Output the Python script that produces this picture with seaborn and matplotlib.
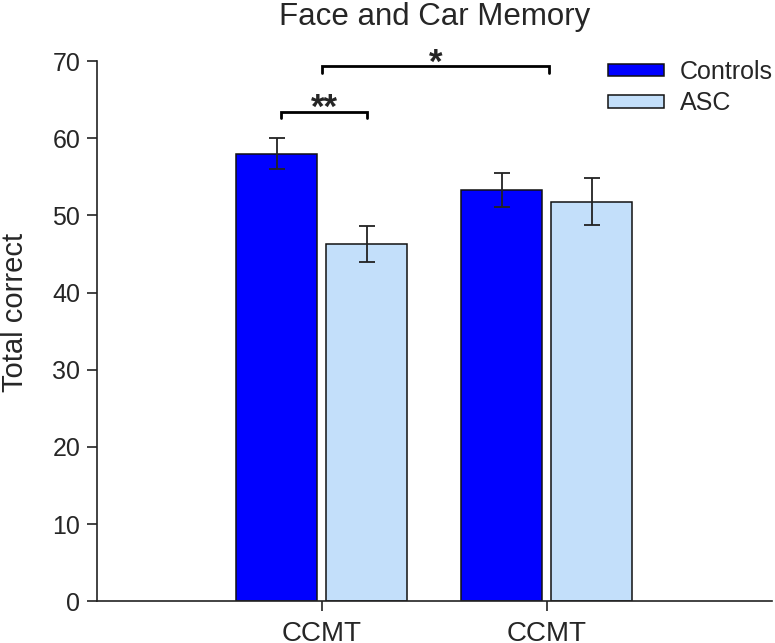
import numpy as np
import pandas as pd
import matplotlib
matplotlib.use('Agg')
import matplotlib.pyplot as plt
import seaborn as sns

# Data
test_ids = [0, 1]
tick_labels = ['CCMT', 'CCMT']
groups = ['Controls', 'ASC']
controls_mean = [58.0, 53.3]
asc_mean = [46.3, 51.8]
controls_err = [2.05, 2.2]
asc_err = [2.3, 3.05]

palette = {'Controls': '#0000FF', 'ASC': '#C3DFFA'}

df = pd.DataFrame({
    'test': test_ids * 2,
    'group': ['Controls'] * 2 + ['ASC'] * 2,
    'score': controls_mean + asc_mean,
    'err': controls_err + asc_err,
})

sns.set_style('white')
plt.rcParams['font.family'] = ['Liberation Sans', 'DejaVu Sans']
plt.rcParams['font.size'] = 16

fig = plt.figure(figsize=(7.75, 6.43), dpi=100)
ax = fig.add_axes([0.125, 0.065, 0.871, 0.84])

sns.barplot(data=df, x='test', y='score', hue='group', hue_order=groups,
            palette=palette, saturation=1, errorbar=None, width=0.8, gap=0.1,
            edgecolor='#111111', linewidth=1.1, ax=ax)

# error bars on top of each bar
for container, g in zip(ax.containers, groups):
    errs = df[df['group'] == g]['err'].values
    for bar, e in zip(container, errs):
        cx = bar.get_x() + bar.get_width() / 2
        ax.errorbar(cx, bar.get_height(), yerr=e, color='#222222',
                    capsize=5.8, elinewidth=1.3, capthick=1.3, zorder=5)

# significance brackets
def bracket(x1, x2, y, label, drop=0.8):
    ax.plot([x1, x1, x2, x2], [y - drop, y, y, y - drop], color='black',
            lw=2, clip_on=False, solid_joinstyle='miter')
    ax.text((x1 + x2) / 2, y - 0.8, label, ha='center', va='baseline',
            fontsize=25, fontweight='bold')

b_ctrl = ax.containers[0][0]
b_asc = ax.containers[1][0]
bracket(b_ctrl.get_x() + b_ctrl.get_width() / 2 + 0.02,
        b_asc.get_x() + b_asc.get_width() / 2, 63.4, '**')
bracket(test_ids[0], test_ids[1] + 0.01, 69.3, '*')

ax.set_xlim(-1, 2)
ax.set_ylim(0, 70)
ax.set_yticks(np.arange(0, 71, 10))
ax.set_xticks(test_ids)
ax.set_xticklabels(tick_labels)
ax.set_xlabel('')
ax.set_ylabel('Total correct', fontsize=21, labelpad=17)
ax.yaxis.label.set_y(0.535)
ax.set_title('Face and Car Memory', fontsize=22.5, pad=26)

for s in ['top', 'right']:
    ax.spines[s].set_visible(False)
for s in ['left', 'bottom']:
    ax.spines[s].set_color('#222222')
    ax.spines[s].set_linewidth(1.2)
ax.tick_params(axis='both', direction='out', length=7, width=1.2,
               color='#222222', left=True, bottom=True)
ax.tick_params(axis='y', labelsize=18, pad=5)
ax.tick_params(axis='x', labelsize=20, pad=7)

handles, labels = ax.get_legend_handles_labels()
ax.legend(handles, labels, loc='upper left',
          bbox_to_anchor=(608 / 775, 1 - 60 / 643), bbox_transform=fig.transFigure,
          frameon=False, fontsize=18, borderpad=0, borderaxespad=0,
          handlelength=2.24, handleheight=0.4,
          handletextpad=0.64, labelspacing=0.3)

fig.savefig('out.png', dpi=100)
